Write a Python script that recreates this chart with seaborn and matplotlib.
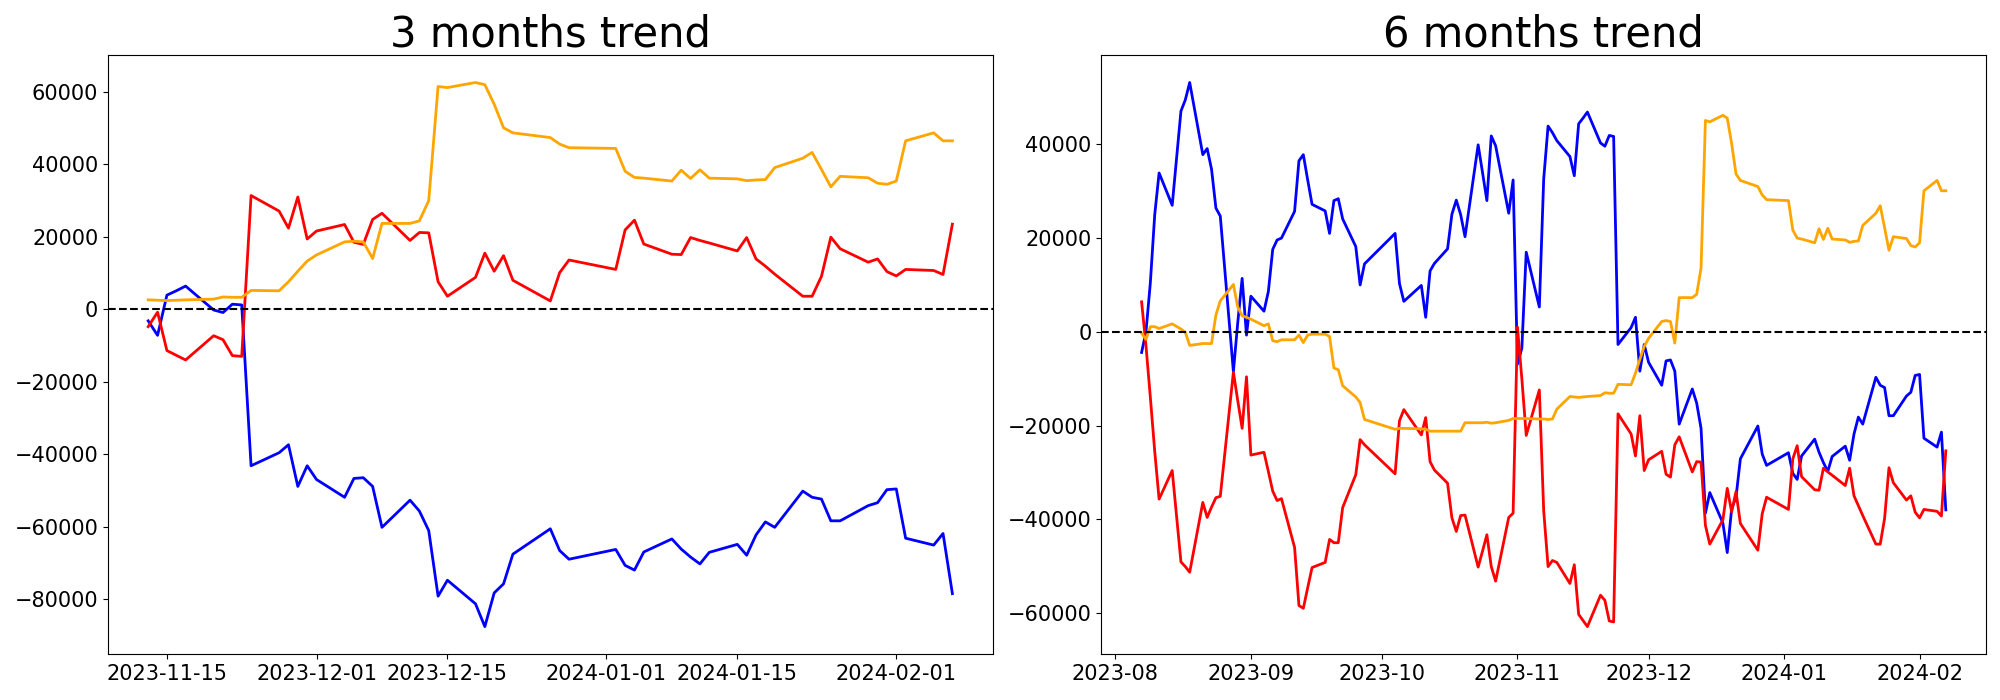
import pandas as pd
import seaborn as sns
import matplotlib
matplotlib.use("Agg")
import matplotlib.pyplot as plt
import matplotlib.dates as mdates

# 3 months window (trading days)
dates_3m = [
    "2023-11-13", "2023-11-14", "2023-11-15", "2023-11-16", "2023-11-17",
    "2023-11-20", "2023-11-21", "2023-11-22", "2023-11-23", "2023-11-24",
    "2023-11-27", "2023-11-28", "2023-11-29", "2023-11-30", "2023-12-01",
    "2023-12-04", "2023-12-05", "2023-12-06", "2023-12-07", "2023-12-08",
    "2023-12-11", "2023-12-12", "2023-12-13", "2023-12-14", "2023-12-15",
    "2023-12-18", "2023-12-19", "2023-12-20", "2023-12-21", "2023-12-22",
    "2023-12-26", "2023-12-27", "2023-12-28",
    "2024-01-02", "2024-01-03", "2024-01-04", "2024-01-05",
    "2024-01-08", "2024-01-09", "2024-01-10", "2024-01-11", "2024-01-12",
    "2024-01-15", "2024-01-16", "2024-01-17", "2024-01-18", "2024-01-19",
    "2024-01-22", "2024-01-23", "2024-01-24", "2024-01-25", "2024-01-26",
    "2024-01-29", "2024-01-30", "2024-01-31", "2024-02-01", "2024-02-02",
    "2024-02-05", "2024-02-06", "2024-02-07",
]
blue_3m = [
    -3200, -7200, 3900, 5100, 6400,
    -200, -900, 1400, 1200, -43200,
    -39600, -37400, -48900, -43200, -47000,
    -51900, -46700, -46500, -48900, -60200,
    -52700, -55700, -61100, -79200, -74800,
    -81300, -87600, -78300, -75800, -67600,
    -60600, -66600, -69000,
    -66300, -70700, -72000, -67000,
    -63400, -66200, -68400, -70300, -67100,
    -64900, -67900, -62300, -58700, -60200,
    -50200, -51900, -52400, -58400, -58400,
    -54200, -53400, -49800, -49600, -63200,
    -65100, -61900, -78500,
]
red_3m = [
    -4800, -800, -11400, -12700, -14000,
    -7300, -8400, -12800, -13000, 31400,
    27100, 22400, 31000, 19400, 21600,
    23400, 18500, 17900, 24800, 26500,
    19000, 21200, 21100, 7600, 3600,
    8800, 15500, 10500, 14800, 8000,
    2300, 10100, 13600,
    11000, 21900, 24600, 18000,
    15200, 15100, 19800, 19000, 18300,
    16100, 19800, 13900, 11900, 9700,
    3600, 3600, 9100, 19900, 16700,
    13000, 13900, 10400, 9200, 11000,
    10700, 9600, 23500,
]
orange_3m = [
    2600, 2500, 2400, 2500, 2600,
    2800, 3400, 3300, 3300, 5200,
    5100, 7600, 10500, 13300, 15000,
    18600, 18800, 18600, 14000, 23700,
    23700, 24400, 30000, 61500, 61200,
    62600, 62000, 56600, 50100, 48700,
    47400, 45600, 44600,
    44400, 38100, 36400, 36200,
    35400, 38400, 36100, 38500, 36200,
    36000, 35500, 35700, 35800, 39100,
    41700, 43300, 38600, 33800, 36700,
    36300, 34800, 34500, 35400, 46500,
    48700, 46500, 46500,
]

# 6 months window
dates_6m = [
    "2023-08-07", "2023-08-08", "2023-08-09", "2023-08-10", "2023-08-11",
    "2023-08-14", "2023-08-16", "2023-08-17", "2023-08-18",
    "2023-08-21", "2023-08-22", "2023-08-23", "2023-08-24", "2023-08-25",
    "2023-08-28", "2023-08-29", "2023-08-30", "2023-08-31", "2023-09-01",
    "2023-09-04", "2023-09-05", "2023-09-06", "2023-09-07", "2023-09-08",
    "2023-09-11", "2023-09-12", "2023-09-13", "2023-09-14", "2023-09-15",
    "2023-09-18", "2023-09-19", "2023-09-20", "2023-09-21", "2023-09-22",
    "2023-09-25", "2023-09-26", "2023-09-27",
    "2023-10-04", "2023-10-05", "2023-10-06",
    "2023-10-10", "2023-10-11", "2023-10-12", "2023-10-13",
    "2023-10-16", "2023-10-17", "2023-10-18", "2023-10-19", "2023-10-20",
    "2023-10-23", "2023-10-24", "2023-10-25", "2023-10-26", "2023-10-27",
    "2023-10-30", "2023-10-31", "2023-11-01", "2023-11-02", "2023-11-03",
    "2023-11-06", "2023-11-07", "2023-11-08", "2023-11-09", "2023-11-10",
] + dates_3m
blue_6m = [
    -4400, 0, 10500, 25000, 33900,
    27000, 47100, 49500, 53200,
    37800, 39100, 34700, 26400, 24700,
    -8500, 2000, 11400, -700, 7600,
    4400, 8600, 17600, 19600, 20000,
    25700, 36500, 37800, 32400, 27200,
    25800, 21000, 28000, 28400, 24100,
    18200, 10000, 14500,
    21000, 10300, 6500,
    9900, 3100, 13000, 14600,
    17700, 25100, 28100, 25000, 20300,
    39900, 34000, 28000, 41800, 39700,
    25300, 32400, -6900, -3500, 17000,
    5300, 32600, 43900, 42500, 40800,
    37400, 33300, 44400, 45600, 46900,
    40300, 39600, 41900, 41700, -2700,
    900, 3100, -8400, -2700, -6500,
    -11400, -6200, -6000, -8400, -19700,
    -12200, -15200, -20600, -38700, -34300,
    -40800, -47100, -37800, -35300, -27100,
    -20100, -26100, -28500,
    -25800, -30200, -31500, -26500,
    -22900, -25700, -27900, -29800, -26600,
    -24400, -27400, -21800, -18200, -19700,
    -9700, -11400, -11900, -17900, -17900,
    -13700, -12900, -9300, -9100, -22700,
    -24600, -21400, -38000,
]
red_6m = [
    6400, -3000, -14000, -25500, -35700,
    -29600, -49100, -50100, -51300,
    -36400, -39600, -37400, -35400, -35100,
    -8600, -14700, -20600, -9600, -26300,
    -25700, -29800, -34000, -36000, -35600,
    -46000, -58400, -59000, -54600, -50300,
    -49200, -44300, -45000, -45000, -37500,
    -30500, -23000, -24100,
    -30300, -19000, -16600,
    -22000, -18300, -27700, -29500,
    -32300, -39700, -42600, -39200, -39100,
    -50200, -46800, -43300, -50100, -53200,
    -39600, -38700, 1000, -10000, -22100,
    -12400, -38200, -50100, -48800, -49200,
    -53700, -49700, -60300, -61600, -62900,
    -56200, -57300, -61700, -61900, -17500,
    -21800, -26500, -17900, -29600, -27300,
    -25500, -30400, -31000, -24100, -22400,
    -29900, -27700, -27800, -41300, -45300,
    -40100, -33400, -38400, -34100, -40900,
    -46600, -38800, -35300,
    -37900, -27100, -24300, -30900,
    -33700, -33800, -29100, -29900, -30600,
    -32800, -29100, -35000, -37100, -39200,
    -45300, -45300, -39800, -29000, -32200,
    -35900, -35000, -38500, -39700, -37900,
    -38300, -39300, -25400,
]
orange_6m = [
    -300, -1600, 1100, 1100, 700,
    1700, 600, -100, -2900,
    -2500, -2500, -2500, 3600, 6600,
    10100, 5300, 3400, 3100, 2700,
    1300, 1700, -1900, -2100, -1700,
    -1700, -700, -2300, -700, -500,
    -500, -1000, -7700, -8100, -11500,
    -13900, -15100, -18700,
    -20800, -20600, -20600,
    -20700, -20800, -21200, -21200,
    -21200, -21200, -21200, -21200, -19400,
    -19400, -19400, -19300, -19500, -19400,
    -18900, -18500, -18500, -18500, -18500,
    -18600, -18600, -18700, -18600, -16500,
    -13800, -13900, -14000, -13900, -13800,
    -13600, -13000, -13100, -13100, -11200,
    -11300, -8800, -5900, -3100, -1400,
    2200, 2400, 2200, -2400, 7300,
    7300, 8000, 13600, 45100, 44800,
    46200, 45600, 40200, 33700, 32300,
    31000, 29200, 28200,
    28000, 21700, 20000, 19800,
    19000, 22000, 19700, 22100, 19800,
    19600, 19100, 19300, 19400, 22700,
    25300, 26900, 22200, 17400, 20300,
    19900, 18400, 18100, 19000, 30100,
    32300, 30100, 30100,
]


def draw_panel(ax, dates, blue, red, orange, title):
    x = pd.to_datetime(dates)
    sns.lineplot(x=x, y=blue, color="blue", linewidth=2, ax=ax)
    sns.lineplot(x=x, y=red, color="red", linewidth=2, ax=ax)
    sns.lineplot(x=x, y=orange, color="orange", linewidth=2, ax=ax)
    ax.axhline(0, color="black", linestyle="--", linewidth=1.5)
    ax.set_title(title, fontsize=30)
    ax.set_xlabel("")
    ax.set_ylabel("")
    ax.tick_params(labelsize=15)


fig, axes = plt.subplots(1, 2, figsize=(20, 7), dpi=100)

draw_panel(axes[0], dates_3m, blue_3m, red_3m, orange_3m, "3 months trend")
axes[0].xaxis.set_major_locator(mdates.DayLocator(bymonthday=[1, 15]))
axes[0].xaxis.set_major_formatter(mdates.DateFormatter("%Y-%m-%d"))

draw_panel(axes[1], dates_6m, blue_6m, red_6m, orange_6m, "6 months trend")
axes[1].xaxis.set_major_locator(mdates.MonthLocator())
axes[1].xaxis.set_major_formatter(mdates.DateFormatter("%Y-%m"))

plt.subplots_adjust(left=0.054, right=0.993, bottom=0.066, top=0.921, wspace=0.123)
plt.savefig("out.png")
plt.close()
